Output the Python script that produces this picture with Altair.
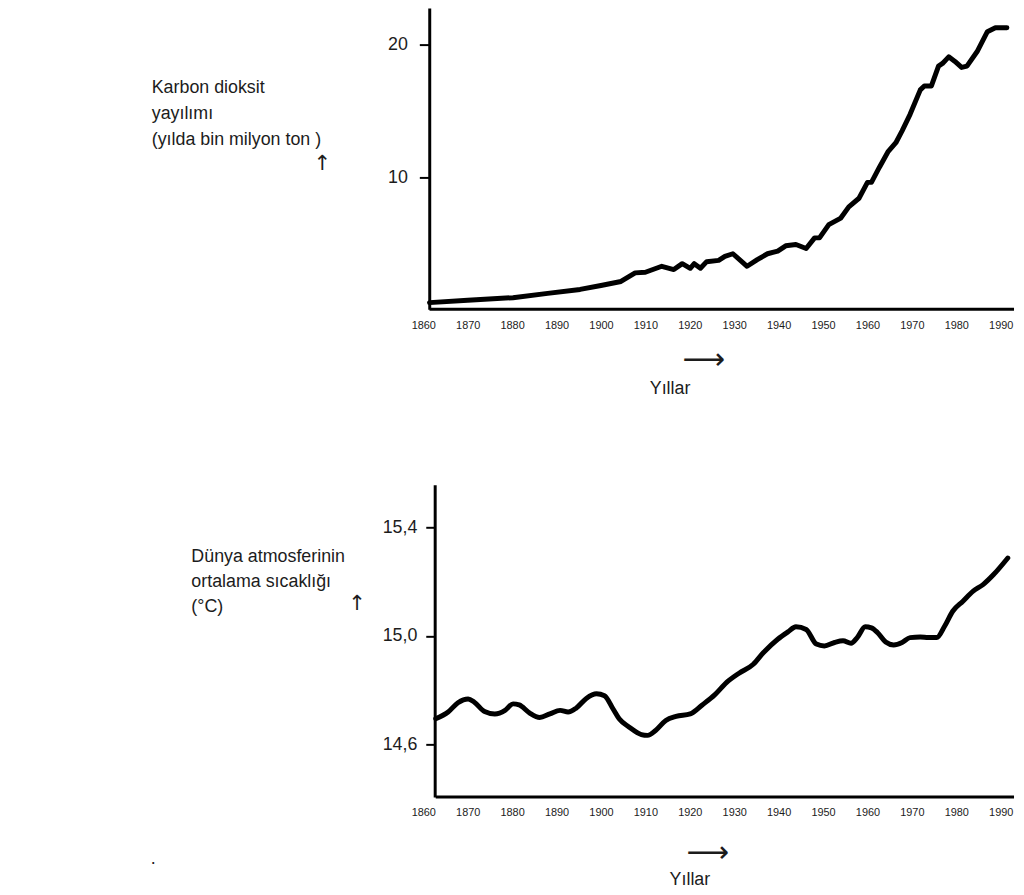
import altair as alt
import pandas as pd

# ---------------- data ----------------
co2_years = [1861.4, 1870, 1880.2, 1888, 1895.3, 1900, 1904.5, 1907.7, 1910, 1913.7,
             1916.4, 1918.3, 1920.1, 1921, 1922.4, 1923.8, 1926.5, 1927.9, 1929.7, 1932.9,
             1935.2, 1937.5, 1939.8, 1941.6, 1943.9, 1946.2, 1948.1, 1949.2, 1951.3, 1954,
             1955.8, 1958.1, 1960, 1960.9, 1962.7, 1964.6, 1966.4, 1967.8, 1969.6, 1971.9,
             1972.8, 1974.4, 1976, 1976.9, 1978.3, 1979.7, 1981.2, 1982.4, 1984.7, 1987,
             1988.8, 1991.4]
co2_values = [0.5, 0.68, 0.875, 1.2, 1.5, 1.8, 2.1, 2.75, 2.8, 3.25,
              3.0, 3.45, 3.1, 3.45, 3.1, 3.6, 3.7, 4.0, 4.2, 3.25,
              3.75, 4.2, 4.4, 4.8, 4.9, 4.6, 5.4, 5.4, 6.4, 6.9,
              7.75, 8.4, 9.6, 9.6, 10.75, 11.9, 12.6, 13.5, 14.75, 16.6,
              16.9, 16.9, 18.4, 18.6, 19.1, 18.75, 18.3, 18.4, 19.5, 21.0,
              21.3, 21.3]

temp_years = [1862.8, 1865.6, 1867.8, 1870.1, 1871.5, 1873.8, 1876.1, 1878.4, 1880.2, 1881.6,
              1883.9, 1886.2, 1888.5, 1890.8, 1892.6, 1894.4, 1896.7, 1899, 1900.8, 1902.7,
              1904.1, 1906.3, 1909.1, 1910.5, 1912.3, 1914.6, 1916.9, 1920.1, 1922.8, 1925.6,
              1928.3, 1931.1, 1934.3, 1936.6, 1939.8, 1942.1, 1943.9, 1946.2, 1948.5, 1950.3,
              1952.6, 1954.5, 1956.3, 1957.7, 1959.5, 1960.9, 1962.3, 1964.1, 1965.9, 1967.8,
              1969.6, 1971.9, 1973.7, 1975.6, 1977.4, 1979.2, 1981.5, 1983.8, 1986.1, 1988.4,
              1991.6]
temp_values = [14.695, 14.72, 14.754, 14.768, 14.756, 14.722, 14.713, 14.726, 14.75, 14.746,
               14.717, 14.70, 14.713, 14.726, 14.72, 14.734, 14.77, 14.787, 14.78, 14.732,
               14.695, 14.665, 14.637, 14.634, 14.652, 14.689, 14.704, 14.713, 14.746, 14.783,
               14.829, 14.863, 14.896, 14.939, 14.988, 15.015, 15.034, 15.024, 14.97, 14.963,
               14.976, 14.982, 14.973, 14.994, 15.034, 15.03, 15.012, 14.978, 14.967, 14.976,
               14.994, 14.996, 14.994, 14.994, 15.037, 15.091, 15.128, 15.165, 15.19, 15.226,
               15.287]

x_ticks = [1860, 1870, 1880, 1890, 1900, 1910, 1920, 1930, 1940, 1950, 1960, 1970, 1980, 1990]
co2_ticks = [10, 20]
temp_ticks = [14.6, 15.0, 15.4]

co2_label = ["Karbon dioksit", "yayılımı", "(yılda bin milyon ton )"]
temp_label = ["Dünya atmosferinin", "ortalama sıcaklığı", "(°C)"]
x_title = "Yıllar"

# ---------------- styling ----------------
FONT = "Liberation Sans, Arial, Helvetica, sans-serif"
ARROW_FONT = "DejaVu Sans"
TXT = "#1c1c1c"
X_DOMAIN = [1860, 1993]
CO2_DOMAIN = [0, 22.8]
TEMP_DOMAIN = [14.4075, 15.557]
W = 596

co2_df = pd.DataFrame({"yil": co2_years, "deger": co2_values})
temp_df = pd.DataFrame({"yil": temp_years, "deger": temp_values})
one = alt.Data(values=[{"k": 0}])


def x_enc():
    return alt.X(
        "yil:Q",
        scale=alt.Scale(domain=X_DOMAIN, nice=False, zero=False),
        axis=alt.Axis(values=x_ticks, format="d", title=None, domain=False, ticks=False,
                      grid=False, labelFontSize=11, labelPadding=10, labelFont=FONT,
                      labelColor=TXT, labelFlush=False),
    )


def txt(s, x, y, size=18, align="left", baseline="alphabetic", font=FONT, lh=26):
    return alt.Chart(one).mark_text(
        text=s, align=align, baseline=baseline, fontSize=size, font=font,
        color=TXT, lineHeight=lh,
    ).encode(x=alt.value(x), y=alt.value(y))


# ---------------- top panel ----------------
co2_y = alt.Y(
    "deger:Q",
    scale=alt.Scale(domain=CO2_DOMAIN, nice=False, zero=False),
    axis=alt.Axis(values=co2_ticks, title=None, grid=False, domain=True, domainWidth=3,
                  domainColor="black", ticks=True, tickSize=10, tickWidth=2,
                  tickColor="black", labelFontSize=18, labelPadding=12, offset=-6,
                  labelFont=FONT, labelColor=TXT),
)
co2_line = alt.Chart(co2_df).mark_line(
    color="black", strokeWidth=5, strokeJoin="round", strokeCap="round"
).encode(x=x_enc(), y=co2_y)
co2_base = alt.Chart(one).mark_rule(color="black", strokeWidth=3).encode(
    x=alt.datum(co2_years[0]), x2=alt.datum(X_DOMAIN[1]), y=alt.datum(CO2_DOMAIN[0])
)
top = alt.layer(
    co2_line,
    co2_base,
    txt(co2_label, -274, 86),
    txt("↑", -102, 158, size=21, align="center", baseline="middle", font=ARROW_FONT),
    txt("⟶", 283, 355, size=30, align="center", baseline="middle", font=ARROW_FONT),
    txt(x_title, 249, 390, align="center"),
).properties(width=W, height=304)

# ---------------- bottom panel ----------------
temp_y = alt.Y(
    "deger:Q",
    scale=alt.Scale(domain=TEMP_DOMAIN, nice=False, zero=False),
    axis=alt.Axis(values=temp_ticks, title=None, grid=False, domain=True, domainWidth=3,
                  domainColor="black", ticks=True, tickSize=9, tickWidth=2,
                  tickColor="black", labelFontSize=18, labelPadding=9, offset=-11.5,
                  labelFont=FONT, labelColor=TXT,
                  labelExpr="replace(format(datum.value, '.1f'), '.', ',')"),
)
temp_line = alt.Chart(temp_df).mark_line(
    color="black", strokeWidth=5, strokeJoin="round", strokeCap="round",
    interpolate="monotone",
).encode(x=x_enc(), y=temp_y)
temp_base = alt.Chart(one).mark_rule(color="black", strokeWidth=3).encode(
    x=alt.datum(temp_years[0]), x2=alt.datum(X_DOMAIN[1]), y=alt.datum(TEMP_DOMAIN[0])
)
bottom = alt.layer(
    temp_line,
    temp_base,
    txt(temp_label, -234, 78, lh=25),
    txt("↑", -67, 120, size=21, align="center", baseline="middle", font=ARROW_FONT),
    txt("⟶", 287, 372, size=30, align="center", baseline="middle", font=ARROW_FONT),
    txt(x_title, 269, 404, align="center"),
    txt(".", -275, 383),
).properties(width=W, height=315)

chart = alt.vconcat(top, bottom, spacing=177, bounds="flush").resolve_scale(
    y="independent"
).properties(
    padding={"left": 144, "top": -4, "right": 0, "bottom": -4},
    background="white",
).configure_view(stroke=None)

chart.save("out.html", embed_options={"renderer": "svg", "actions": False})
